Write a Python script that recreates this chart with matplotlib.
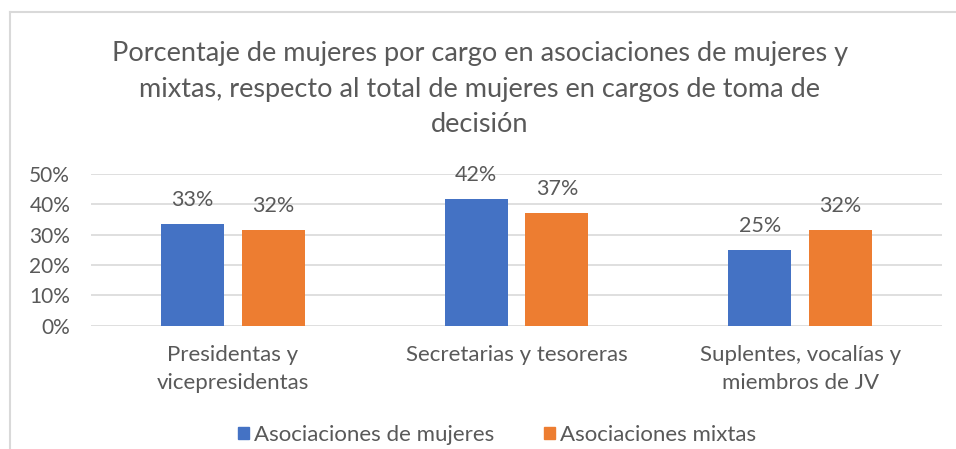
import matplotlib.pyplot as plt
import matplotlib.lines as mlines
import matplotlib.patches as mpatches
import numpy as np

categorias = ['Presidentas y\nvicepresidentas', 'Secretarias y tesoreras',
              'Suplentes, vocalías y\nmiembros de JV']
mujeres = [0.335, 0.418, 0.25]
mixtas = [0.315, 0.371, 0.315]
etiquetas_mujeres = ['33%', '42%', '25%']
etiquetas_mixtas = ['32%', '37%', '32%']
series = ['Asociaciones de mujeres', 'Asociaciones mixtas']
yticks = [0, 0.1, 0.2, 0.3, 0.4, 0.5]

azul = '#4472C4'
naranja = '#ED7D31'
gris = '#595959'
linea = '#D9D9D9'

plt.rcParams['font.family'] = ['Lato', 'DejaVu Sans']

fig = plt.figure(figsize=(9.56, 4.49), dpi=100)
ax = fig.add_axes([91 / 956, 1 - 325.7 / 449, 851 / 956, (325.7 - 174) / 449])

x = np.arange(len(categorias))
w = 0.222
off = (w + 0.063) / 2
b1 = ax.bar(x - off, mujeres, w, color=azul)
b2 = ax.bar(x + off, mixtas, w, color=naranja)

for bars, labs in ((b1, etiquetas_mujeres), (b2, etiquetas_mixtas)):
    for b, t in zip(bars, labs):
        ax.annotate(t, (b.get_x() + b.get_width() / 2, b.get_height()),
                    xytext=(0, 10), textcoords='offset points',
                    ha='center', va='bottom', fontsize=15.5, color=gris)

ax.set_xlim(-0.5, 2.5)
ax.set_ylim(0, 0.5)
ax.set_yticks(yticks)
ax.set_yticklabels(['%d%%' % round(v * 100) for v in yticks])
ax.set_xticks(x)
ax.set_xticklabels(categorias, fontsize=16, color=gris, linespacing=1.5)
ax.tick_params(axis='y', labelsize=15, labelcolor=gris, length=0, pad=15)
ax.tick_params(axis='x', length=0, pad=14)
ax.yaxis.grid(True, color=linea, linewidth=1.2)
ax.set_axisbelow(True)
for s in ax.spines.values():
    s.set_visible(False)

fig.text(0.502, 1 - 89 / 449,
         'Porcentaje de mujeres por cargo en asociaciones de mujeres y\n'
         'mixtas, respecto al total de mujeres en cargos de toma de\n'
         'decisión',
         ha='center', va='center', fontsize=19.5, color=gris, linespacing=1.52)

# borde del gráfico (recortado a la derecha y abajo)
fig.add_artist(mlines.Line2D([10 / 956, 1], [1 - 12 / 449, 1 - 12 / 449],
                             color=linea, linewidth=1.5, transform=fig.transFigure))
fig.add_artist(mlines.Line2D([10 / 956, 10 / 956], [0, 1 - 12 / 449],
                             color=linea, linewidth=1.5, transform=fig.transFigure))

handles = [mpatches.Patch(color=azul), mpatches.Patch(color=naranja)]
fig.legend(handles, series, loc='center', bbox_to_anchor=(0.52, 1 - 435 / 449),
           ncol=2, frameon=False, fontsize=16, labelcolor=gris,
           handlelength=0.5, handleheight=0.5, handletextpad=0.25, columnspacing=2.2)

fig.savefig('out.png', dpi=100)
